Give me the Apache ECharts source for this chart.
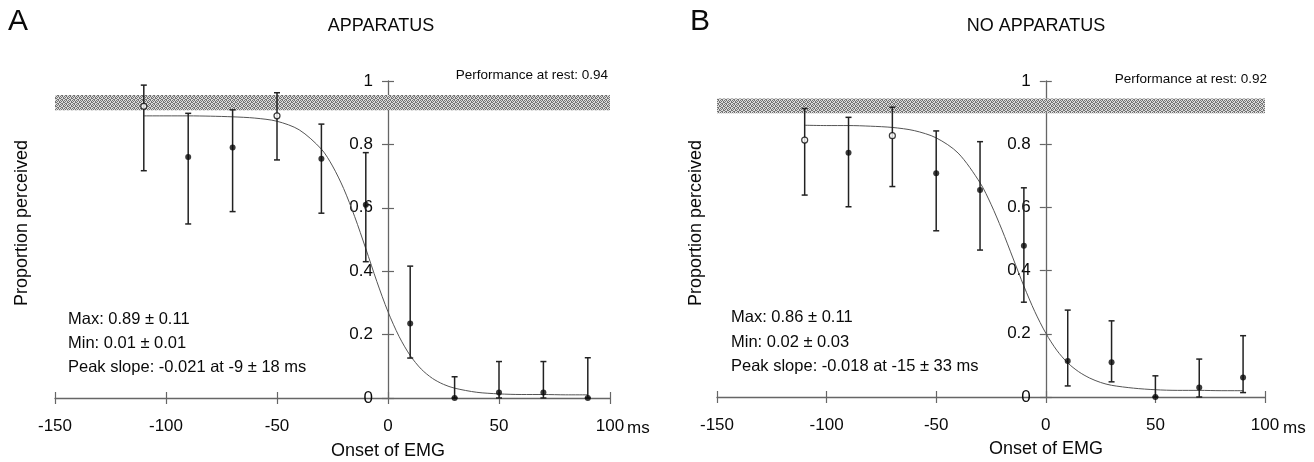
<!DOCTYPE html>
<html>
<head>
<meta charset="utf-8">
<script src="https://cdn.jsdelivr.net/npm/echarts@6/dist/echarts.min.js"></script>
<style>
  html, body { margin: 0; background: #fff; }
  #chart { width: 1314px; height: 462px; }
</style>
</head>
<body>
<div id="chart"></div>
<script>
// time bins relative to EMG onset (ms)
const bins = [-110, -90, -70, -50, -30, -10, 10, 30, 50, 70, 90]
const xTicks = [-150, -100, -50, 0, 50, 100]
const yTicks = [0, 0.2, 0.4, 0.6, 0.8, 1]

// A: apparatus
const meanA = [0.92, 0.76, 0.79, 0.89, 0.755, 0.61, 0.235, 0.0, 0.017, 0.017, 0.0]
const highA = [0.987, 0.898, 0.909, 0.963, 0.864, 0.774, 0.416, 0.067, 0.115, 0.115, 0.127]
const lowA = [0.717, 0.549, 0.588, 0.751, 0.583, 0.43, 0.126, 0, 0, 0, 0]
const openA = [true, false, false, true, false, false, false, false, false, false, false]
const restBandA = [0.908, 0.956]

// B: no apparatus
const meanB = [0.813, 0.773, 0.827, 0.708, 0.655, 0.479, 0.114, 0.11, 0.0, 0.03, 0.062]
const highB = [0.913, 0.885, 0.917, 0.842, 0.808, 0.662, 0.275, 0.241, 0.067, 0.12, 0.194]
const lowB = [0.639, 0.602, 0.666, 0.526, 0.465, 0.30, 0.035, 0.048, 0, 0, 0.014]
const openB = [true, false, true, false, false, false, false, false, false, false, false]
const restBandB = [0.898, 0.945]

// fitted curves
const fitX = [-110, -100, -90, -80, -70, -60, -50, -40, -30, -25, -20, -15, -10, -5, 0, 5, 10, 15, 20, 25, 30, 40, 50, 60, 70, 80, 90]
const fitA = [0.89, 0.89, 0.89, 0.889, 0.887, 0.883, 0.873, 0.846, 0.785, 0.732, 0.661, 0.572, 0.471, 0.367, 0.272, 0.194, 0.134, 0.091, 0.062, 0.043, 0.031, 0.018, 0.013, 0.011, 0.011, 0.01, 0.01]
const fitB = [0.86, 0.859, 0.859, 0.857, 0.853, 0.843, 0.82, 0.772, 0.678, 0.61, 0.529, 0.44, 0.351, 0.27, 0.202, 0.148, 0.108, 0.08, 0.06, 0.046, 0.037, 0.028, 0.023, 0.021, 0.021, 0.02, 0.02]

const FONT = '"Liberation Sans", Arial, sans-serif'
const INK = '#0a0a0a'
const AXIS = '#666'

function stipple() {
  const c = document.createElement('canvas')
  c.width = 4
  c.height = 4
  const g = c.getContext('2d')
  g.fillStyle = '#dcdcdc'
  g.fillRect(0, 0, 4, 4)
  g.fillStyle = '#747474'
  ;[[0, 0], [2, 0], [1, 1], [3, 1], [0, 2], [3, 2], [1, 3], [2, 3]].forEach(d => g.fillRect(d[0], d[1], 1, 1))
  return c
}
const pattern = stipple()

const panels = [
  { grid: { left: 55, top: 81, width: 555, height: 317 }, mean: meanA, high: highA, low: lowA, open: openA, fit: fitA, band: restBandA },
  { grid: { left: 717, top: 81, width: 548, height: 316 }, mean: meanB, high: highB, low: lowB, open: openB, fit: fitB, band: restBandB },
]

const xMin = xTicks[0]
const xMax = xTicks[xTicks.length - 1]

const grid = []
const xAxis = []
const yAxis = []
const series = []

panels.forEach((p, i) => {
  grid.push(p.grid)
  const xBase = {
    type: 'value', gridIndex: i, position: 'bottom',
    min: xMin, max: xMax, interval: 50,
    splitLine: { show: false },
  }
  // outer ticks + labels
  xAxis.push(Object.assign({}, xBase, {
    axisLine: { onZero: false, lineStyle: { color: AXIS, width: 1.3 } },
    axisTick: { length: 6, lineStyle: { color: AXIS, width: 1.2 } },
    axisLabel: { margin: 20, fontSize: 17, color: INK, fontFamily: FONT },
  }))
  // inner half of the crossing ticks
  xAxis.push(Object.assign({}, xBase, {
    axisLine: { show: false, onZero: false },
    axisTick: { inside: true, length: 6, lineStyle: { color: AXIS, width: 1.2 } },
    axisLabel: { show: false },
  }))

  // y axis sits at x = 0: shift the whole axis (line, ticks, labels) there
  const shift = -(0 - xMin) / (xMax - xMin) * p.grid.width
  const yBase = {
    type: 'value', gridIndex: i, position: 'left', offset: shift,
    min: yTicks[0], max: yTicks[yTicks.length - 1], interval: 0.2,
    splitLine: { show: false },
  }
  yAxis.push(Object.assign({}, yBase, {
    axisLine: { show: true, onZero: false, lineStyle: { color: AXIS, width: 1.3 } },
    axisTick: { length: 6, lineStyle: { color: AXIS, width: 1.2 } },
    axisLabel: { margin: 15, fontSize: 17, color: INK, fontFamily: FONT },
  }))
  yAxis.push(Object.assign({}, yBase, {
    axisLine: { show: false, onZero: false },
    axisTick: { inside: true, length: 6, lineStyle: { color: AXIS, width: 1.2 } },
    axisLabel: { show: false },
  }))

  const ax = { xAxisIndex: 2 * i, yAxisIndex: 2 * i }

  // performance at rest band
  series.push(Object.assign({
    type: 'custom', silent: true, z: 1,
    data: [[xMin, p.band[0], xMax, p.band[1]]],
    renderItem: (params, api) => {
      const a = api.coord([api.value(0), api.value(3)])
      const b = api.coord([api.value(2), api.value(1)])
      return {
        type: 'rect',
        shape: { x: a[0], y: a[1], width: b[0] - a[0], height: b[1] - a[1] },
        style: { fill: { image: pattern, repeat: 'repeat' } },
      }
    },
  }, ax))

  // fitted curve
  series.push(Object.assign({
    type: 'line', z: 3, silent: true,
    data: fitX.map((x, k) => [x, p.fit[k]]),
    showSymbol: false, smooth: 0.3,
    lineStyle: { color: '#555', width: 1 },
  }, ax))

  // error bars
  series.push(Object.assign({
    type: 'custom', z: 4, silent: true,
    data: bins.map((x, k) => [x, p.low[k], p.high[k]]),
    encode: { x: 0, y: [1, 2] },
    renderItem: (params, api) => {
      const top = api.coord([api.value(0), api.value(2)])
      const bot = api.coord([api.value(0), api.value(1)])
      const w = 3
      const st = { stroke: '#222', lineWidth: 1.5 }
      return {
        type: 'group',
        children: [
          { type: 'line', shape: { x1: top[0], y1: top[1], x2: bot[0], y2: bot[1] }, style: st },
          { type: 'line', shape: { x1: top[0] - w, y1: top[1], x2: top[0] + w, y2: top[1] }, style: st },
          { type: 'line', shape: { x1: bot[0] - w, y1: bot[1], x2: bot[0] + w, y2: bot[1] }, style: st },
        ],
      }
    },
  }, ax))

  // means
  series.push(Object.assign({
    type: 'scatter', z: 5, silent: true, symbolSize: 6,
    data: bins.map((x, k) => ({
      value: [x, p.mean[k]],
      itemStyle: p.open[k]
        ? { color: '#fff', borderColor: INK, borderWidth: 1.2 }
        : { color: INK },
    })),
  }, ax))
})

function txt(text, x, y, size, opts) {
  return {
    type: 'text', x: x, y: y, silent: true,
    style: Object.assign({
      text: text, fill: INK, fontSize: size, fontFamily: FONT,
      align: 'left', verticalAlign: 'middle',
    }, opts || {}),
  }
}

const graphic = [
  txt('A', 8, 22, 30),
  txt('APPARATUS', 381, 26, 18, { align: 'center' }),
  txt('B', 690, 22, 30),
  txt('NO APPARATUS', 1036, 26, 18, { align: 'center' }),

  txt('Performance at rest: 0.94', 608, 75, 13.5, { align: 'right' }),
  txt('Performance at rest: 0.92', 1267, 79, 13.5, { align: 'right' }),

  Object.assign(txt('Proportion perceived', 22, 223, 18, { align: 'center' }), { rotation: Math.PI / 2 }),
  Object.assign(txt('Proportion perceived', 696, 223, 18, { align: 'center' }), { rotation: Math.PI / 2 }),

  txt('Onset of EMG', 388, 451, 18, { align: 'center' }),
  txt('Onset of EMG', 1046, 449, 18, { align: 'center' }),
  txt('ms', 627, 428, 17),
  txt('ms', 1283, 428, 17),

  txt('Max: 0.89 \u00b1 0.11', 68, 319, 16.5),
  txt('Min: 0.01 \u00b1 0.01', 68, 343, 16.5),
  txt('Peak slope: -0.021 at -9 \u00b1 18 ms', 68, 367, 16.5),
  txt('Max: 0.86 \u00b1 0.11', 731, 317, 16.5),
  txt('Min: 0.02 \u00b1 0.03', 731, 342, 16.5),
  txt('Peak slope: -0.018 at -15 \u00b1 33 ms', 731, 366, 16.5),
]

const chart = echarts.init(document.getElementById('chart'))
chart.setOption({
  animation: false,
  backgroundColor: '#fff',
  grid: grid,
  xAxis: xAxis,
  yAxis: yAxis,
  series: series,
  graphic: graphic,
})
</script>
</body>
</html>
